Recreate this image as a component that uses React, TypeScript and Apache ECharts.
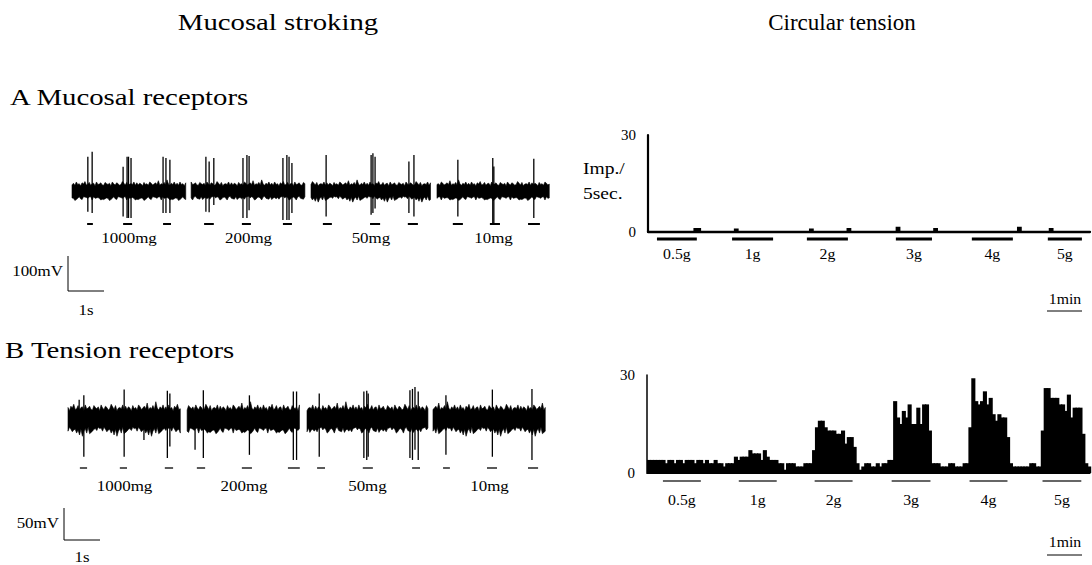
import React, { useEffect, useRef } from "react";
import * as echarts from "echarts";

const SERIF = "'Liberation Serif', 'Times New Roman', serif";

// ---------- left: raw recordings ----------
const DOSES = ["1000mg", "200mg", "50mg", "10mg"];
// segment [start s, end s]
const SEG_A = [[0, 3.17], [3.31, 6.5], [6.64, 9.97], [10.14, 13.28]];
const SEG_B = [[0, 3.14], [3.31, 6.47], [6.64, 10.0], [10.14, 13.28]];
// spikes: [time s, peak mV, trough mV]
const SPIKES_A = [
  [0.44, 98, -59], [0.56, 112, -63],
  [1.42, 69, -73], [1.53, 98, -77], [1.57, 98, -77], [1.64, 94, -77],
  [2.53, 98, -63], [2.61, 94, -63], [2.72, 89, -63],
  [3.72, 98, -59], [3.81, 84, -61], [3.94, 94, -40],
  [4.75, 94, -77], [4.86, 103, -77], [4.92, 100, -55],
  [5.86, 94, -83], [5.97, 103, -83], [6.03, 98, -83], [6.11, 80, -63],
  [7.06, 103, -73],
  [8.31, 103, -68], [8.36, 108, -63], [8.42, 98, -50],
  [9.36, 84, -63], [9.5, 103, -73],
  [10.72, 89, -73],
  [11.69, 94, -92], [11.72, 70, -92],
  [12.83, 92, -77],
];
const SPIKES_B = [
  [0.31, 30, -18], [0.44, 37, -59], [1.56, 46, -59], [2.11, 18, -33], [2.76, 44, -61], [2.83, 40, -43],
  [3.53, 18, -48], [3.76, 45, -61], [5.04, 37, -56], [6.26, 43, -64], [6.35, 43, -64],
  [6.98, 40, -59], [8.22, 43, -61], [8.3, 44, -64], [8.34, 40, -59], [9.5, 45, -61], [9.57, 47, -64],
  [9.64, 50, -48], [9.73, 43, -64],
  [10.5, 37, -56], [11.79, 46, -59], [12.89, 47, -64],
];
// stroking periods [start s, end s]
const STROKES_A = [[0.42, 0.58], [1.42, 1.67], [2.53, 2.75], [3.67, 3.94], [4.72, 4.97], [5.86, 6.11],
  [6.97, 7.22], [8.28, 8.56], [9.33, 9.61], [10.58, 10.86], [11.61, 11.89], [12.67, 13.0]];
const STROKES_B = [[0.33, 0.53], [1.44, 1.64], [2.69, 2.92], [3.58, 3.81], [4.83, 5.11], [6.11, 6.44],
  [6.92, 7.14], [8.19, 8.47], [9.56, 9.78], [10.42, 10.61], [11.64, 11.92], [12.78, 13.06]];
// baseline noise envelope (fraction of noise amplitude)
const NOISE = [0.2, 0.6, 0.1, 0.9, 0.3, 0.5, 0.0, 0.7, 0.4, 1.0, 0.2, 0.3, 0.8, 0.1, 0.5, 0.6, 0.0, 0.9, 0.3, 0.4,
  0.7, 0.2, 0.1, 0.8, 0.5, 0.3, 0.6, 0.0, 0.9, 0.4, 0.2, 0.7, 0.5, 0.1, 0.3, 1.0, 0.6, 0.2, 0.8, 0.0,
  0.4, 0.5, 0.3, 0.9, 0.1, 0.7, 0.2, 0.6, 0.4, 0.0, 0.8, 0.3, 0.5, 0.1, 0.9, 0.6, 0.2, 0.4, 0.7, 0.3,
  1.2, 0.1, 0.5, 0.3, 0.8, 0.2, 1.4, 0.4, 0.1, 0.6, 0.3, 0.9];
const NOISE_A = { core: 15, amp: 12 }; // mV
const NOISE_B = { core: 13, amp: 10 }; // mV

// ---------- right: impulse histograms (5 s bins) ----------
const FORCES = ["0.5g", "1g", "2g", "3g", "4g", "5g"];
const N_BINS = 153;
// mucosal receptor: sparse [bin, impulses]
const HIST_A = [[16, 1], [17, 1], [30, 0.8], [56, 0.8], [69, 1], [86, 1.4], [99, 1], [128, 1.4], [139, 1]];
// tension receptor: impulses per bin
const HIST_B = [
  4, 4, 4, 4, 4, 4, 3, 4, 4, 3, 4, 4, 3, 4, 4, 4, 3, 4, 4, 3, 4, 3, 3, 4, 3, 3, 2, 3, 3, 3, 5,
  4, 5, 5, 5, 7, 6, 6, 6, 4, 7, 5,
  4, 4, 4, 3, 3,
  1,
  3, 3, 3,
  2, 2, 2,
  3, 3, 3,
  7, 14, 16, 16, 14, 13, 13, 13, 12, 12, 13, 9, 11, 11, 8,
  3, 1, 2,
  3, 3, 2, 2, 3, 2, 3, 3, 4, 4,
  22, 17, 15, 19, 17, 21, 15, 15, 20, 15, 21, 21, 13,
  3, 3, 3, 2, 2, 2, 3, 3, 2, 2, 2, 3, 3,
  14, 29, 22, 21, 22, 25, 21, 23, 18, 16, 18, 17, 17, 11,
  3, 2, 2, 2, 2, 2, 2, 3, 3, 2, 2,
  13, 26, 26, 23, 23, 23, 21, 21, 19, 24, 17, 20, 20, 20, 12,
  3, 2,
];
// tension steps [start bin, end bin]
const STIM_A = [[3.1, 16.9], [29.1, 43.3], [55, 69.2], [85.8, 98.3], [112.1, 126.3], [138.4, 150.2]];
const STIM_B = [[5.5, 18.6], [31.7, 44.8], [57.9, 71], [84.5, 97.9], [111.4, 124.5], [136.6, 150]];

const SX = 1.13;

function txt(text: string, x: number, y: number, size: number, align: string, sx = SX) {
  return {
    type: "text", x, y, scaleX: sx, silent: true,
    style: {
      text, fontSize: size, fontFamily: SERIF, fill: "#000",
      align, verticalAlign: "middle", textAlign: align, textVerticalAlign: "middle",
    },
  };
}
function ln(x1: number, y1: number, x2: number, y2: number, w = 1) {
  return { type: "line", silent: true, shape: { x1, y1, x2, y2 }, style: { stroke: "#000", lineWidth: w } };
}

function bandSeries(gi: number, segs: number[][], noise: { core: number; amp: number }, labelOffset: number) {
  return {
    type: "custom", xAxisIndex: gi, yAxisIndex: gi, clip: false,
    data: segs.map((s, i) => [s[0], s[1], i]),
    renderItem: (params: any, api: any) => {
      const s = api.value(0), e = api.value(1), k = api.value(2);
      const step = 0.04;
      const n = Math.floor((e - s) / step);
      const top: number[][] = [];
      const bot: number[][] = [];
      for (let i = 0; i <= n; i++) {
        const t = Math.min(e, s + i * step);
        const up = noise.core + NOISE[(i + k * 17 + gi * 5) % NOISE.length] * noise.amp;
        const dn = noise.core + NOISE[(i * 3 + k * 11 + 29 + gi * 7) % NOISE.length] * noise.amp;
        top.push(api.coord([t, up]));
        bot.push(api.coord([t, -dn]));
      }
      const pts = top.concat(bot.reverse());
      const c0 = api.coord([(s + e) / 2, 0]);
      return {
        type: "group",
        children: [
          { type: "polygon", shape: { points: pts }, style: { fill: "#000", stroke: "#000", lineWidth: 0.6 } },
          {
            type: "text", x: c0[0], y: c0[1] + labelOffset, scaleX: SX,
            style: {
              text: DOSES[k], fontSize: 15, fontFamily: SERIF, fill: "#000",
              align: "center", verticalAlign: "middle", textAlign: "center", textVerticalAlign: "middle",
            },
          },
        ],
      };
    },
  };
}

function spikeSeries(gi: number, spikes: number[][]) {
  return {
    type: "custom", xAxisIndex: gi, yAxisIndex: gi, clip: false,
    data: spikes,
    renderItem: (params: any, api: any) => {
      const a = api.coord([api.value(0), api.value(1)]);
      const b = api.coord([api.value(0), api.value(2)]);
      return { type: "line", shape: { x1: a[0], y1: a[1], x2: b[0], y2: b[1] }, style: { stroke: "#000", lineWidth: 1.3 } };
    },
  };
}

function strokeSeries(gi: number, strokes: number[][], offset: number, w: number) {
  return {
    type: "custom", xAxisIndex: gi, yAxisIndex: gi, clip: false,
    data: strokes,
    renderItem: (params: any, api: any) => {
      const a = api.coord([api.value(0), 0]);
      const b = api.coord([api.value(1), 0]);
      return { type: "line", shape: { x1: a[0], y1: a[1] + offset, x2: b[0], y2: b[1] + offset }, style: { stroke: "#000", lineWidth: w } };
    },
  };
}

function histSeries(gi: number, data: number[][], edge: number, overlap: number) {
  return {
    type: "custom", xAxisIndex: gi, yAxisIndex: gi, clip: false,
    data,
    renderItem: (params: any, api: any) => {
      const b = api.value(0), v = api.value(1);
      const p0 = api.coord([b, v]);
      const p1 = api.coord([b + 1, 0]);
      return {
        type: "rect",
        shape: { x: p0[0], y: p0[1], width: p1[0] - p0[0] + overlap, height: p1[1] - p0[1] },
        style: edge > 0 ? { fill: "#000", stroke: "#000", lineWidth: edge } : { fill: "#000" },
      };
    },
  };
}

function stimSeries(gi: number, stims: number[][], lineOff: number, labelOff: number, w: number, color: string) {
  return {
    type: "custom", xAxisIndex: gi, yAxisIndex: gi, clip: false,
    data: stims.map((s, i) => [s[0], s[1], i]),
    renderItem: (params: any, api: any) => {
      const a = api.coord([api.value(0), 0]);
      const b = api.coord([api.value(1), 0]);
      return {
        type: "group",
        children: [
          { type: "line", shape: { x1: a[0], y1: a[1] + lineOff, x2: b[0], y2: b[1] + lineOff }, style: { stroke: color, lineWidth: w } },
          {
            type: "text", x: (a[0] + b[0]) / 2, y: a[1] + labelOff, scaleX: SX,
            style: {
              text: FORCES[api.value(2)], fontSize: 14, fontFamily: SERIF, fill: "#000",
              align: "center", verticalAlign: "middle", textAlign: "center", textVerticalAlign: "middle",
            },
          },
        ],
      };
    },
  };
}

export default function App() {
  const ref = useRef<HTMLDivElement>(null);
  useEffect(() => {
    if (!ref.current) return;
    const chart = echarts.init(ref.current, undefined, { renderer: "svg" });
    const hiddenX = (max: number) => ({ type: "value", min: 0, max, show: false });
    const histX = (gi: number, w: number) => ({
      type: "value", gridIndex: gi, min: 0, max: N_BINS,
      axisLine: { show: true, onZero: true, lineStyle: { color: "#000", width: w } },
      axisTick: { show: false }, axisLabel: { show: false }, splitLine: { show: false },
    });
    const histY = (gi: number, w: number) => ({
      type: "value", gridIndex: gi, min: 0, max: 30, interval: 30,
      axisLine: { show: true, lineStyle: { color: "#000", width: w } },
      axisTick: { show: false }, splitLine: { show: false },
      axisLabel: { color: "#000", fontFamily: SERIF, fontSize: 15, margin: 12 },
    });
    chart.setOption({
      animation: false,
      backgroundColor: "#fff",
      grid: [
        { left: 72, top: 138.5, width: 478, height: 105 },
        { left: 68, top: 355, width: 478, height: 128 },
        { left: 648, top: 135, width: 442, height: 97 },
        { left: 647, top: 375, width: 443, height: 98 },
      ],
      xAxis: [
        { ...hiddenX(13.28), gridIndex: 0 },
        { ...hiddenX(13.28), gridIndex: 1 },
        histX(2, 2.3),
        histX(3, 1.2),
      ],
      yAxis: [
        { type: "value", gridIndex: 0, min: -150, max: 150, show: false },
        { type: "value", gridIndex: 1, min: -100, max: 100, show: false },
        histY(2, 2.2),
        histY(3, 1.5),
      ],
      series: [
        bandSeries(0, SEG_A, NOISE_A, 47),
        spikeSeries(0, SPIKES_A),
        strokeSeries(0, STROKES_A, 33, 2),
        bandSeries(1, SEG_B, NOISE_B, 67),
        spikeSeries(1, SPIKES_B),
        strokeSeries(1, STROKES_B, 49, 1.3),
        histSeries(2, HIST_A, 1.6, 0.3),
        stimSeries(2, STIM_A, 7, 22, 2.8, "#000"),
        histSeries(3, HIST_B.map((v, i) => [i, v]), 0, 1.2),
        stimSeries(3, STIM_B, 8, 27, 1.3, "#333"),
      ],
      graphic: [
        txt("Mucosal stroking", 278, 22, 23, "center", 1.25),
        txt("Circular tension", 842, 22, 23, "center", 1.0),
        txt("A Mucosal receptors", 10, 97, 24, "left", 1.2),
        txt("B Tension receptors", 5, 350, 24, "left", 1.2),
        txt("100mV", 63, 271, 15, "right"),
        ln(68, 256, 68, 291),
        ln(68, 291, 104, 291),
        txt("1s", 86, 310, 15, "center"),
        txt("50mV", 59, 523, 15, "right"),
        ln(64, 508, 64, 540),
        ln(64, 540, 100, 540),
        txt("1s", 82, 557, 15, "center"),
        txt("Imp./", 583, 168, 17, "left", 1.15),
        txt("5sec.", 583, 193, 17, "left", 1.15),
        txt("1min", 1065, 299, 14, "center"),
        ln(1047, 311, 1082, 311),
        txt("1min", 1065, 542, 14, "center"),
        ln(1047, 555, 1082, 555),
      ],
    });
    return () => chart.dispose();
  }, []);
  return <div ref={ref} style={{ position: "fixed", left: 0, top: 0, width: 1092, height: 565, background: "#fff" }} />;
}
